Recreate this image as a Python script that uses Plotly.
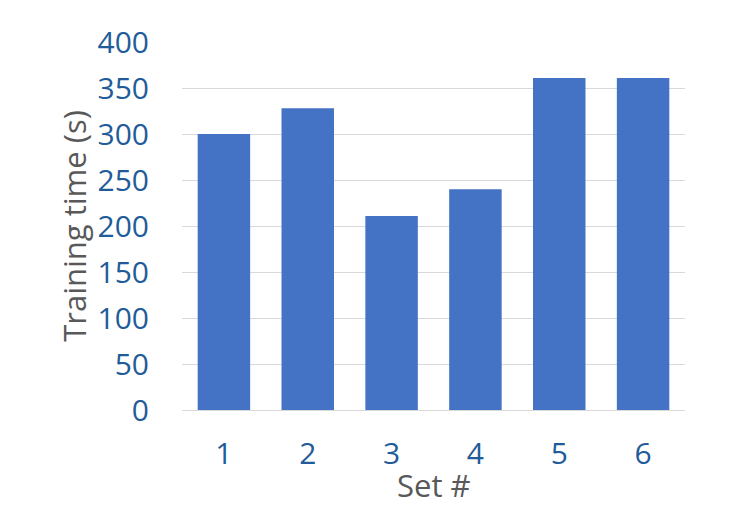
import plotly.graph_objects as go

categories = ["1", "2", "3", "4", "5", "6"]
training_time = [300, 328, 211, 240, 361, 361]
y_ticks = [0, 50, 100, 150, 200, 250, 300, 350, 400]

fig = go.Figure(go.Bar(
    x=categories, y=training_time,
    marker=dict(color="#4472C4", line=dict(width=0)),
    width=0.626,
))

fig.update_layout(
    width=750, height=520,
    margin=dict(l=174, r=73, t=32, b=118),
    plot_bgcolor="white", paper_bgcolor="white",
    font=dict(family="Open Sans, Liberation Sans, sans-serif"),
    showlegend=False,
)
fig.update_yaxes(
    range=[0, 400], tickvals=y_ticks,
    showgrid=True, gridcolor="#D9D9D9", gridwidth=1,
    zeroline=False, showline=False,
    tickfont=dict(size=30, color="#1F5C99"),
    ticklabelstandoff=32,
    title=dict(text="Training time (s)", font=dict(size=31, color="#595959"), standoff=1),
)
fig.update_xaxes(
    showline=True, linecolor="#D9D9D9", linewidth=1,
    tickfont=dict(size=30, color="#1F5C99"),
    ticklabelstandoff=17,
)
fig.add_annotation(
    text="Set #", xref="paper", yref="paper", x=0.5, y=0,
    xanchor="center", yanchor="middle", yshift=-75, showarrow=False,
    font=dict(size=31, color="#595959"),
)

fig.write_html("out.html")
